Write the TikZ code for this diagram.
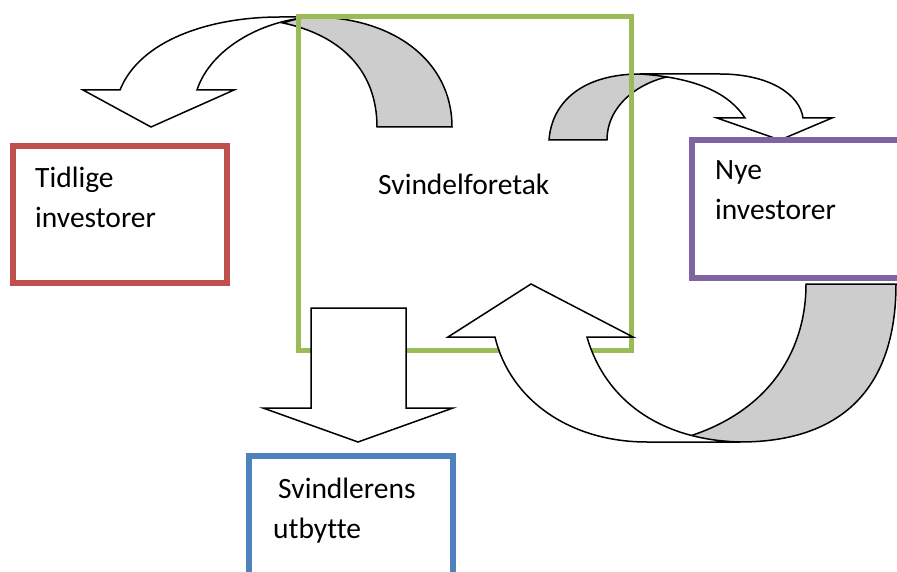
\documentclass[tikz,border=0pt]{standalone}
\usepackage{fontspec}
\setmainfont{Carlito}[Ligatures={NoCommon}]
\definecolor{foretakgreen}{HTML}{9BBB59}
\definecolor{tidligred}{HTML}{C0504D}
\definecolor{nyepurple}{HTML}{8064A2}
\definecolor{utbytteblue}{HTML}{4F81BD}
\definecolor{pilgray}{HTML}{CDCDCD}
\tikzset{
  boks/.style={draw, line width=6pt, inner sep=0pt, outer sep=0pt, anchor=north west},
  tekst/.style={anchor=base west, inner sep=0pt, font=\fontsize{29.5}{35}\selectfont},
  pilfront/.style={draw=black, fill=white, line width=1.5pt},
  pilbak/.style={draw=black, fill=pilgray, line width=1.5pt}
}
\begin{document}
\begin{tikzpicture}[x=1pt,y=-1pt]
\useasboundingbox (0,0) rectangle (897,572);
\clip (0,0) rectangle (897,572);

% pil til tidlige investorer
\draw[pilbak] (452,127) .. controls (452,60) and (392,17) .. (313,17) .. controls (303,17) and (292,20) .. (283,23) .. controls (340,35) and (377,70) .. (377,127) -- cycle;
\draw[pilfront] (120,90) .. controls (140,40) and (210,17) .. (280,17) -- (313,17) .. controls (260,20) and (210,50) .. (197,90) -- (234,90) -- (151,127) -- (83,90) -- cycle;

% pil til nye investorer
\draw[pilbak] (549,140) .. controls (552,100) and (585,74) .. (640,74) -- (677,75) .. controls (640,80) and (607,105) .. (607,140) -- cycle;
\draw[pilfront] (640,74) -- (720,74) .. controls (770,74) and (800,95) .. (803,118) -- (832,118) -- (780,140) -- (717,118) -- (745,118) .. controls (730,95) and (700,78) .. (640,74) -- cycle;

% boksene
\node[boks, draw=foretakgreen, line width=5pt, minimum width=333pt, minimum height=333pt] (foretak) at (298,17) {};
\node[boks, draw=tidligred, minimum width=214pt, minimum height=137pt] (tidlige) at (13,146) {};
\node[boks, draw=nyepurple, minimum width=240pt, minimum height=138pt] (nye) at (692,140) {};
\node[boks, draw=utbytteblue, minimum width=204pt, minimum height=160pt] (utbytte) at (249,456) {};

% pil fra nye investorer tilbake
\draw[pilbak] (896,284) .. controls (896,390) and (840,442) .. (740,442) .. controls (720,442) and (705,440) .. (690,436) .. controls (770,410) and (806,350) .. (806,284) -- cycle;
\draw[pilfront] (495,337) .. controls (510,400) and (570,442) .. (647,442) -- (740,442) .. controls (660,440) and (605,400) .. (587,337) -- (633,337) -- (531,284) -- (448,337) -- cycle;

% pil ned til utbytte
\draw[pilfront] (311,308) -- (406,308) -- (406,408) -- (453,408) -- (358,442) -- (263,408) -- (311,408) -- cycle;

% tekst
\node[tekst] (foretaktxt) at (378,195) {Svindelforetak};
\node[tekst] (tidligetxt) at (35,188) {Tidlige};
\node[tekst] (tidligetxtb) at (35,228) {investorer};
\node[tekst] (nyetxt) at (715,180) {Nye};
\node[tekst] (nyetxtb) at (715,220) {investorer};
\node[tekst] (utbyttetxt) at (278,498) {Svindlerens};
\node[tekst] (utbyttetxtb) at (273,538) {utbytte};

\end{tikzpicture}
\end{document}
